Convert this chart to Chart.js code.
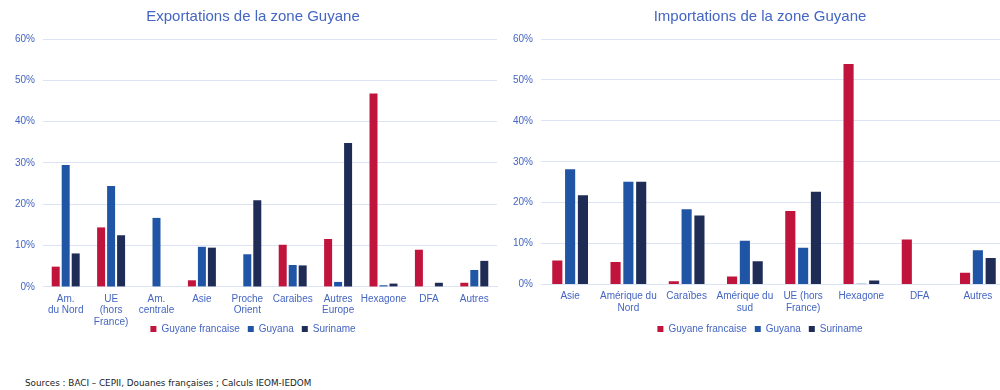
<!DOCTYPE html>
<html>
<head>
<meta charset="utf-8">
<script src="https://cdn.jsdelivr.net/npm/chart.js@4/dist/chart.umd.min.js"></script>
<style>
  html, body { margin: 0; padding: 0; background: #fff; width: 1000px; height: 390px; overflow: hidden; position: relative; }
  #left { position: absolute; left: 0; top: 0; width: 500px; height: 362px; }
  #right { position: absolute; left: 500px; top: 0; width: 510px; height: 348px; }
  #src { position: absolute; left: 25px; top: 378px; font-family: "DejaVu Sans", sans-serif; font-size: 8.8px; color: #222; white-space: nowrap; }
</style>
</head>
<body>
<div id="left"><canvas id="c1"></canvas></div>
<div id="right"><canvas id="c2"></canvas></div>
<div id="src">Sources : BACI – CEPII, Douanes françaises ; Calculs IEOM-IEDOM</div>
<script>
const seriesNames = ["Guyane francaise", "Guyana", "Suriname"];
const seriesColors = ["#c0143c", "#2055a5", "#1f2c56"];

const exportCategories = [["Am.","du Nord"], ["UE","(hors","France)"], ["Am.","centrale"], "Asie", ["Proche","Orient"], "Caraibes", ["Autres","Europe"], "Hexagone", "DFA", "Autres"];
const exportGuyaneFr = [4.9, 14.4, 0, 1.6, 0, 10.2, 11.6, 46.8, 9.0, 1.0];
const exportGuyana   = [29.5, 24.4, 16.7, 9.7, 7.9, 5.3, 1.2, 0.4, 0, 4.1];
const exportSuriname = [8.1, 12.5, 0, 9.5, 21.0, 5.2, 34.8, 0.8, 1.0, 6.3];

const importCategories = ["Asie", ["Amérique du","Nord"], "Caraïbes", ["Amérique du","sud"], ["UE (hors","France)"], "Hexagone", "DFA", "Autres"];
const importGuyaneFr = [5.9, 5.5, 0.8, 2.0, 18.0, 53.9, 11.0, 2.9];
const importGuyana   = [28.2, 25.1, 18.4, 10.7, 9.0, 0.2, 0, 8.4];
const importSuriname = [21.8, 25.1, 16.9, 5.7, 22.7, 1.0, 0, 6.5];

const yTicks = [0, 10, 20, 30, 40, 50, 60];

const textColor = "#4465c2";
const gridColor = "#dce3f4";
const FONT = "'Liberation Sans', Arial, sans-serif";

function makeChart(id, title, cats, d1, d2, d3, catPct, barPct, padL, padR, yW, legendShift) {
  return new Chart(document.getElementById(id), {
    type: 'bar',
    data: {
      labels: cats,
      datasets: [d1, d2, d3].map((d, i) => ({
        label: seriesNames[i],
        data: d,
        backgroundColor: seriesColors[i],
        borderWidth: 0,
        categoryPercentage: catPct,
        barPercentage: barPct
      }))
    },
    plugins: [{
      id: 'shiftLegend',
      afterLayout(chart) {
        const l = chart.legend;
        if (l && legendShift) { l.top -= legendShift; l.bottom -= legendShift; }
      }
    }],
    options: {
      responsive: true,
      maintainAspectRatio: false,
      animation: false,
      layout: { padding: { left: padL, right: padR, top: 0, bottom: 0 } },
      plugins: {
        title: {
          display: true, text: title, color: textColor,
          font: { family: FONT, size: 15, weight: 'normal' },
          padding: { top: 8, bottom: 13 }
        },
        legend: {
          position: 'bottom',
          labels: {
            color: textColor, boxWidth: 6, boxHeight: 6,
            font: { family: FONT, size: 10 }, padding: 8
          }
        },
        tooltip: { enabled: false }
      },
      scales: {
        x: {
          grid: { display: false, drawTicks: false },
          border: { display: true, color: gridColor },
          ticks: { color: textColor, font: { family: FONT, size: 10, lineHeight: 1.17 }, maxRotation: 0, autoSkip: false, padding: 6 }
        },
        y: {
          min: yTicks[0], max: yTicks[yTicks.length - 1],
          afterBuildTicks: s => { s.ticks = yTicks.map(v => ({ value: v })); },
          afterFit: s => { s.width = yW; },
          grid: { color: gridColor, drawTicks: false },
          border: { display: false },
          ticks: { color: textColor, font: { family: FONT, size: 10 }, padding: 8, callback: v => v + '%' }
        }
      }
    }
  });
}

makeChart('c1', 'Exportations de la zone Guyane', exportCategories, exportGuyaneFr, exportGuyana, exportSuriname, 0.66, 0.8, 9, 3, 34, 18);
makeChart('c2', 'Importations de la zone Guyane', importCategories, importGuyaneFr, importGuyana, importSuriname, 0.66, 0.79, 13, 3, 28, 4);
</script>
</body>
</html>
